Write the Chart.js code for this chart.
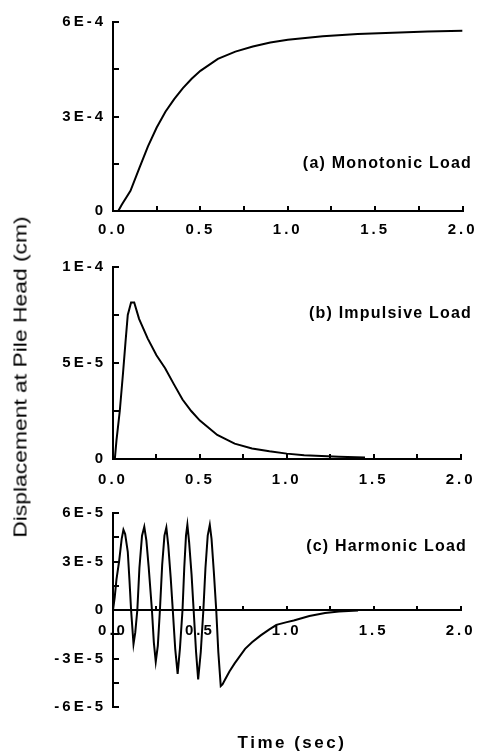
<!DOCTYPE html>
<html>
<head>
<meta charset="utf-8">
<script src="https://cdn.jsdelivr.net/npm/chart.js@4.4.1/dist/chart.umd.min.js"></script>
<style>
  html, body { margin: 0; padding: 0; background: #fff; }
  #wrap { position: relative; width: 488px; height: 756px; overflow: hidden;
          font-family: 'Liberation Sans', Arial, sans-serif; color: #000; }
  canvas { position: absolute; left: 0; }
  .note { position: absolute; right: 16px; font-weight: bold; font-size: 16px;
          letter-spacing: 1.2px; line-height: 16px; white-space: nowrap; }
  #ytitle { position: absolute; left: 21px; top: 377px; font-size: 18px; white-space: nowrap;
            transform: translate(-50%, -50%) rotate(-90deg) scaleX(1.27); }
  #xtitle { position: absolute; left: 292px; top: 743px; font-size: 17px; font-weight: bold;
            letter-spacing: 2.5px; white-space: nowrap; transform: translate(-50%, -50%); }
</style>
</head>
<body>
<div id="wrap">
  <canvas id="chartA" width="488" height="245" style="top:0px"></canvas>
  <canvas id="chartB" width="488" height="245" style="top:245px"></canvas>
  <canvas id="chartC" width="488" height="266" style="top:490px"></canvas>
  <div class="note" style="top:155px">(a) Monotonic Load</div>
  <div class="note" style="top:305px">(b) Impulsive Load</div>
  <div class="note" style="top:538px; right:21px">(c) Harmonic Load</div>
  <div id="ytitle">Displacement at Pile Head (cm)</div>
  <div id="xtitle">Time (sec)</div>
</div>
<script>
// (a) monotonic load, displacement in units of 1E-4 cm
const timeA = [0, 0.03, 0.05, 0.1, 0.15, 0.2, 0.25, 0.3, 0.35, 0.4, 0.45, 0.5, 0.6, 0.7, 0.8, 0.9, 1.0, 1.2, 1.4, 1.6, 1.8, 2.0];
const dispA = [0, 0, 0.2, 0.64, 1.35, 2.05, 2.65, 3.15, 3.55, 3.9, 4.2, 4.45, 4.83, 5.06, 5.22, 5.35, 5.44, 5.55, 5.62, 5.66, 5.7, 5.72];

// (b) impulsive load, units of 1E-5 cm
const timeB = [0, 0.011, 0.02, 0.039, 0.057, 0.072, 0.085, 0.104, 0.122, 0.15, 0.2, 0.25, 0.3, 0.35, 0.4, 0.45, 0.5, 0.6, 0.7, 0.8, 0.9, 1.0, 1.1, 1.2, 1.3, 1.45];
const dispB = [0, 0.05, 0.97, 2.5, 4.4, 6.1, 7.5, 8.15, 8.15, 7.3, 6.27, 5.4, 4.73, 3.9, 3.1, 2.5, 2.0, 1.25, 0.8, 0.55, 0.4, 0.28, 0.2, 0.15, 0.12, 0.08];

// (c) harmonic load, units of 1E-5 cm
const timeC = [0, 0.01, 0.02, 0.035, 0.05, 0.06, 0.07, 0.085, 0.095, 0.104, 0.112, 0.118, 0.128,
  0.14, 0.152, 0.167, 0.18, 0.192, 0.205, 0.224, 0.235, 0.246, 0.258,
  0.27, 0.283, 0.296, 0.307, 0.318, 0.332, 0.344, 0.358, 0.372, 0.385,
  0.4, 0.41, 0.42, 0.428, 0.438, 0.452, 0.464, 0.478, 0.49, 0.505,
  0.52, 0.532, 0.545, 0.557, 0.567, 0.58, 0.594, 0.606, 0.62, 0.63,
  0.645, 0.67, 0.7, 0.76, 0.8, 0.85, 0.9, 0.94, 1.0, 1.04, 1.13, 1.22, 1.3, 1.41];
const dispC = [0, 0.8, 1.9, 3.0, 4.4, 4.96, 4.7, 3.6, 1.8, 0, -1.2, -2.1, -1.4,
  0, 2.6, 4.6, 5.15, 4.3, 2.7, 0, -2.0, -3.2, -2.2,
  0, 2.8, 4.6, 5.1, 4.0, 2.0, 0, -2.4, -3.95, -2.4,
  0, 2.6, 4.6, 5.27, 4.2, 2.2, 0, -2.6, -4.3, -2.6,
  0, 2.6, 4.6, 5.27, 4.4, 2.4, 0, -2.6, -4.7, -4.6,
  -4.3, -3.8, -3.3, -2.4, -2.0, -1.57, -1.2, -0.92, -0.75, -0.65, -0.37, -0.18, -0.1, -0.03];

// axis ranges
const timeTicks = { min: 0, max: 2, step: 0.25 };
const rangeA = { min: 0, max: 6e-4, step: 1.5e-4 };
const rangeB = { min: 0, max: 1e-4, step: 2.5e-5 };
const rangeC = { min: -6e-5, max: 6e-5, step: 1.5e-5 };

Chart.defaults.font.family = "'Liberation Sans', Arial, sans-serif";
Chart.defaults.font.size = 15;
Chart.defaults.font.weight = 'bold';
Chart.defaults.color = '#000';

// wide spaced tick text like the original plot
const spacing = { id: 'spacing', beforeDraw(chart) { chart.ctx.letterSpacing = '3px'; } };

const toPoints = (t, v, k) => t.map((x, i) => ({ x: x, y: v[i] * k }));

function yLabel(v, i) {
  if (i % 2) return '';
  if (Math.abs(v) < 1e-12) return '0';
  return v.toExponential(0).toUpperCase();
}

const tickGrid = { drawOnChartArea: false, drawTicks: true, tickLength: -6, lineWidth: 2, color: '#000' };
const axisLine = { display: true, color: '#000', width: 2 };

function makeChart(id, points, range, padTop, padBottom, xHeight, xPos, xPad) {
  return new Chart(document.getElementById(id), {
    type: 'line',
    data: {
      datasets: [{
        data: points,
        borderColor: '#000',
        borderWidth: 2,
        pointRadius: 0,
        tension: 0,
        fill: false
      }]
    },
    options: {
      responsive: false,
      animation: false,
      events: [],
      layout: { padding: { top: padTop, right: 16, bottom: padBottom, left: 0 } },
      plugins: { legend: { display: false }, tooltip: { enabled: false } },
      scales: {
        x: {
          type: 'linear',
          position: xPos,
          min: timeTicks.min,
          max: timeTicks.max,
          afterFit: s => { if (xHeight) s.height = xHeight; },
          ticks: {
            stepSize: timeTicks.step,
            autoSkip: false,
            maxRotation: 0,
            padding: xPad,
            callback: (v, i) => (i % 2 ? '' : v.toFixed(1))
          },
          grid: Object.assign({}, tickGrid, { tickLength: -5 }),
          border: axisLine
        },
        y: {
          min: range.min,
          max: range.max,
          afterFit: s => { s.width = 113; },
          ticks: { stepSize: range.step, padding: 13, autoSkip: false, callback: yLabel },
          grid: tickGrid,
          border: axisLine
        }
      }
    },
    plugins: [spacing]
  });
}

makeChart('chartA', toPoints(timeA, dispA, 1e-4), rangeA, 15, 0, 34, 'bottom', 15);
makeChart('chartB', toPoints(timeB, dispB, 1e-5), rangeB, 19, 0, 31, 'bottom', 17);
makeChart('chartC', toPoints(timeC, dispC, 1e-5), rangeC, 23, 49, 0, { y: 0 }, 17);
</script>
</body>
</html>
